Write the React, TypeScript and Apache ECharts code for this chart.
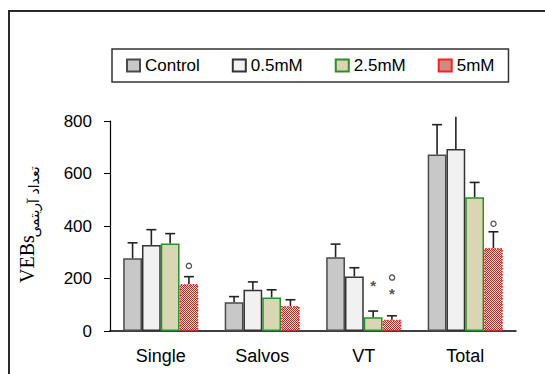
import React, { useEffect, useRef } from "react";
import * as echarts from "echarts";

const categories = ["Single", "Salvos", "VT", "Total"];
const seriesNames = ["Control", "0.5mM", "2.5mM", "5mM"];
const controlMean = [277, 110, 281, 672];
const controlTop = [336, 131, 331, 786];
const halfMean = [328, 157, 208, 693];
const halfTop = [386, 187, 241, 816];
const twoHalfMean = [333, 128, 52, 510];
const twoHalfTop = [371, 157, 76, 566];
const fiveMean = [179, 95, 43, 316];
const fiveTop = [207, 119, 58, 378];
const yTicks = [0, 200, 400, 600, 800];
// annotations: [categoryIndex, seriesIndex, value, symbol]
const annotations: [number, number, number, string][] = [
  [0, 3, 248, "o"],
  [2, 2, 172, "*"],
  [2, 3, 207, "o"],
  [2, 3, 142, "*"],
  [3, 3, 411, "o"],
];

const FONT = "Arial, 'Liberation Sans', sans-serif";
const GAP = 0.26;

export default function App() {
  const ref = useRef<HTMLDivElement>(null);
  useEffect(() => {
    if (!ref.current) return;
    const chart = echarts.init(ref.current, null, { renderer: "svg" });

    const cv = document.createElement("canvas");
    cv.width = 2;
    cv.height = 2;
    const ctx = cv.getContext("2d")!;
    ctx.fillStyle = "#f4e6dc";
    ctx.fillRect(0, 0, 2, 2);
    ctx.fillStyle = "#a83020";
    ctx.fillRect(0, 0, 1, 1);
    ctx.fillRect(1, 1, 1, 1);
    const redPattern: any = { image: cv, repeat: "repeat" };

    const means = [controlMean, halfMean, twoHalfMean, fiveMean];
    const tops = [controlTop, halfTop, twoHalfTop, fiveTop];
    const styles: any[] = [
      { color: "#c8c8c8", borderColor: "#4a4a4a", borderWidth: 1.5 },
      { color: "#f1f1f1", borderColor: "#333333", borderWidth: 1.5 },
      { color: "#d9d7b3", borderColor: "#2a8f2a", borderWidth: 1.5 },
      { color: redPattern, borderColor: "#ff2020", borderWidth: 1.5, borderType: "dotted" },
    ];
    const yMax = yTicks[yTicks.length - 1];

    const barSeries = seriesNames.map((name, i) => ({
      name,
      type: "bar",
      data: means[i],
      barGap: "0%",
      barCategoryGap: GAP * 100 + "%",
      itemStyle: styles[i],
      z: 2,
    }));

    const errData: number[][] = [];
    tops.forEach((arr, s) =>
      arr.forEach((t, c) => errData.push([c, means[s][c], t, s]))
    );

    const offsetX = (api: any, s: number) => {
      const band = api.size([1, 0])[0];
      const bw = (band * (1 - GAP)) / 4;
      return (s - 1.5) * bw;
    };

    const option: any = {
      animation: false,
      grid: { left: 110, right: 29, top: 121, bottom: 43 },
      legend: {
        data: seriesNames,
        left: 112,
        top: 49,
        padding: [8, 14, 8, 14],
        itemGap: 32,
        itemWidth: 13,
        itemHeight: 12,
        icon: "rect",
        borderColor: "#333",
        borderWidth: 1.5,
        textStyle: { fontFamily: FONT, fontSize: 17, color: "#000" },
      },
      xAxis: {
        type: "category",
        data: categories,
        axisLine: { lineStyle: { color: "#000", width: 1.5 } },
        axisTick: { show: false },
        axisLabel: { fontFamily: FONT, fontSize: 18, color: "#000", margin: 16 },
      },
      yAxis: {
        type: "value",
        min: 0,
        max: yMax,
        interval: 200,
        axisLine: { show: true, lineStyle: { color: "#000", width: 1.2 } },
        axisTick: { show: true, length: 6, lineStyle: { color: "#000" } },
        splitLine: { show: false },
        axisLabel: { fontFamily: FONT, fontSize: 17, color: "#000", margin: 18 },
      },
      graphic: [
        {
          type: "rect",
          shape: { x: 9, y: 11, width: 600, height: 420 },
          style: { fill: "none", stroke: "#2a2a2a", lineWidth: 2 },
          silent: true,
        },
        {
          type: "text",
          x: 27,
          y: 259,
          rotation: Math.PI / 2,
          style: {
            text: "VEBs",
            fontFamily: "'Liberation Serif', 'DejaVu Serif', serif",
            fontSize: 20,
            fill: "#000",
            align: "center",
            verticalAlign: "middle",
          },
        },
        {
          type: "text",
          x: 34,
          y: 202,
          rotation: Math.PI / 2,
          style: {
            text: "تعداد آریتمی",
            fontFamily: "'DejaVu Sans', 'Noto Sans', sans-serif",
            fontSize: 14,
            fill: "#000",
            align: "center",
            verticalAlign: "middle",
          },
        },
      ],
      series: [
        ...barSeries,
        {
          type: "custom",
          z: 3,
          silent: true,
          data: errData,
          renderItem: (params: any, api: any) => {
            const c = api.value(0);
            const m = api.value(1);
            const t = api.value(2);
            const s = api.value(3);
            const x = api.coord([c, m])[0] + offsetX(api, s);
            const y0 = api.coord([c, m])[1];
            const y1 = api.coord([c, t])[1];
            const ls = { stroke: "#222", lineWidth: 1.6 };
            const children: any[] = [
              { type: "line", shape: { x1: x, y1: y0, x2: x, y2: y1 }, style: ls },
            ];
            if (t <= yMax) {
              children.push({
                type: "line",
                shape: { x1: x - 5, y1: y1, x2: x + 5, y2: y1 },
                style: ls,
              });
            }
            return { type: "group", children };
          },
        },
        {
          type: "custom",
          z: 4,
          silent: true,
          data: annotations,
          renderItem: (params: any, api: any) => {
            const c = api.value(0);
            const s = api.value(1);
            const v = api.value(2);
            const sym = annotations[params.dataIndex][3];
            const p = api.coord([c, v]);
            const x = p[0] + offsetX(api, s);
            if (sym === "o") {
              return {
                type: "circle",
                shape: { cx: x, cy: p[1], r: 2.6 },
                style: { fill: "none", stroke: "#555", lineWidth: 1.3 },
              };
            }
            return {
              type: "text",
              x,
              y: p[1],
              style: {
                text: "*",
                fontFamily: FONT,
                fontSize: 15,
                fontWeight: "bold",
                fill: "#555",
                align: "center",
                verticalAlign: "middle",
              },
            };
          },
        },
      ],
    };
    chart.setOption(option);
    return () => chart.dispose();
  }, []);
  return (
    <div
      ref={ref}
      style={{ position: "fixed", left: 0, top: 0, width: 545, height: 374, background: "#fff" }}
    />
  );
}
